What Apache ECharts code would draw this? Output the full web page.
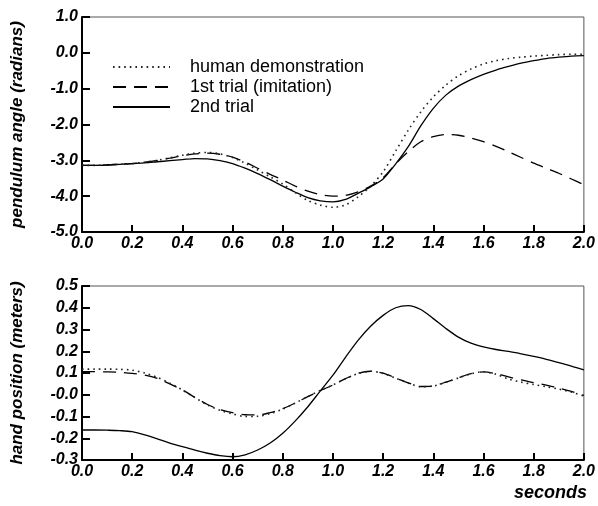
<!DOCTYPE html>
<html>
<head>
<meta charset="utf-8">
<script src="https://cdn.jsdelivr.net/npm/echarts@6/dist/echarts.min.js"></script>
<style>
html,body{margin:0;padding:0;background:#fff;}
#chart{width:598px;height:506px;}
</style>
</head>
<body>
<div id="chart"></div>
<script>
// ---- data ----
var seriesNames = ['human demonstration', '1st trial (imitation)', '2nd trial'];
var xTickLabels = ['0.0','0.2','0.4','0.6','0.8','1.0','1.2','1.4','1.6','1.8','2.0'];
var angleTickLabels = ['-5.0','-4.0','-3.0','-2.0','-1.0','0.0','1.0'];
var handTickLabels = ['-0.3','-0.2','-0.1','-0.0','0.1','0.2','0.3','0.4','0.5'];

var time = [0,0.05,0.1,0.15,0.2,0.25,0.3,0.35,0.4,0.45,0.5,0.55,0.6,0.65,0.7,0.75,0.8,0.85,0.9,0.95,1.0,
            1.05,1.1,1.15,1.2,1.25,1.3,1.35,1.4,1.45,1.5,1.55,1.6,1.65,1.7,1.75,1.8,1.85,1.9,1.95,2.0];

var angleHuman = [-3.14,-3.14,-3.13,-3.11,-3.09,-3.05,-3.00,-2.93,-2.86,-2.80,-2.78,-2.82,-2.92,-3.08,-3.27,-3.46,-3.66,-3.90,-4.12,-4.25,-4.31,
                  -4.24,-4.02,-3.72,-3.32,-2.74,-2.16,-1.65,-1.23,-0.90,-0.64,-0.45,-0.31,-0.22,-0.16,-0.12,-0.09,-0.07,-0.05,-0.04,-0.04];
var angleTrial1 = [-3.14,-3.14,-3.13,-3.11,-3.09,-3.05,-3.00,-2.94,-2.87,-2.82,-2.80,-2.83,-2.91,-3.05,-3.22,-3.39,-3.55,-3.72,-3.86,-3.96,-4.00,
                   -3.98,-3.88,-3.72,-3.48,-3.10,-2.76,-2.48,-2.34,-2.28,-2.30,-2.38,-2.48,-2.61,-2.76,-2.92,-3.08,-3.22,-3.36,-3.52,-3.68];
var angleTrial2 = [-3.14,-3.14,-3.13,-3.11,-3.09,-3.07,-3.04,-3.01,-2.98,-2.95,-2.96,-3.01,-3.09,-3.22,-3.37,-3.54,-3.72,-3.89,-4.04,-4.13,-4.16,
                   -4.09,-3.92,-3.74,-3.52,-3.10,-2.62,-2.04,-1.55,-1.18,-0.93,-0.75,-0.60,-0.48,-0.38,-0.29,-0.22,-0.16,-0.12,-0.09,-0.08];

var handHuman = [0.118,0.118,0.118,0.117,0.113,0.100,0.080,0.053,0.022,-0.013,-0.047,-0.071,-0.088,-0.100,-0.099,-0.086,-0.066,-0.038,-0.008,0.020,0.045,
                 0.073,0.097,0.108,0.098,0.076,0.054,0.037,0.040,0.057,0.077,0.096,0.106,0.094,0.072,0.058,0.047,0.037,0.026,0.012,-0.006];
var handTrial1 = [0.106,0.106,0.105,0.103,0.098,0.090,0.075,0.050,0.022,-0.012,-0.045,-0.068,-0.082,-0.092,-0.093,-0.082,-0.064,-0.038,-0.009,0.019,0.045,
                  0.074,0.099,0.108,0.099,0.077,0.055,0.038,0.041,0.058,0.078,0.097,0.105,0.097,0.082,0.068,0.056,0.044,0.031,0.015,-0.003];
var handTrial2 = [-0.162,-0.162,-0.163,-0.165,-0.170,-0.185,-0.203,-0.222,-0.239,-0.255,-0.269,-0.280,-0.285,-0.276,-0.254,-0.222,-0.177,-0.120,-0.055,0.018,0.090,
                  0.172,0.250,0.315,0.365,0.400,0.410,0.392,0.350,0.305,0.265,0.237,0.220,0.208,0.199,0.188,0.176,0.163,0.148,0.132,0.114];

// ---- helpers ----
function pairs(xs, ys){ return xs.map(function(x,i){ return [x, ys[i]]; }); }
var tickFont = {fontFamily:'Liberation Sans, Arial, sans-serif', fontWeight:'bold', fontStyle:'italic', fontSize:16, color:'#000'};
var titleFont = {fontFamily:'Liberation Sans, Arial, sans-serif', fontWeight:'bold', fontStyle:'italic', fontSize:17, color:'#000'};
var styles = [
  {type:[1.6,4], width:1.6, color:'#222'},
  {type:[13,8], width:1.3, color:'#000'},
  {type:'solid', width:1.3, color:'#000'}
];

function xAxisDef(gi){
  return {
    type:'value', gridIndex:gi, min:0, max:2, interval:0.2,
    axisLine:{show:true, onZero:false, lineStyle:{color:'#000', width:2}},
    axisTick:{show:true, inside:true, length:7, lineStyle:{color:'#000', width:2}},
    splitLine:{show:false},
    axisLabel:Object.assign({margin:4, formatter:function(v){ return xTickLabels[Math.round(v*5)]; }}, tickFont)
  };
}
function yAxisDef(gi, min, max, step, name, labels){
  return {
    type:'value', gridIndex:gi, min:min, max:max, interval:step,
    name:name, nameLocation:'middle', nameGap:56, nameTextStyle:titleFont,
    axisLine:{show:true, onZero:false, lineStyle:{color:'#000', width:2}},
    axisTick:{show:true, inside:true, length:8, lineStyle:{color:'#000', width:2}},
    splitLine:{show:false},
    axisLabel:Object.assign({margin:4, formatter:function(v){ return labels[Math.round((v-min)/step)]; }}, tickFont)
  };
}

var option = {
  animation:false,
  backgroundColor:'#fff',
  grid:[
    {left:82, top:17, width:502, height:215, show:true, borderColor:'#555', borderWidth:1},
    {left:82, top:286, width:502, height:174, show:true, borderColor:'#555', borderWidth:1}
  ],
  legend:{
    data:seriesNames, orient:'vertical', left:107, top:52,
    itemWidth:57, itemHeight:14, itemGap:0,
    itemStyle:{opacity:0},
    textStyle:{fontFamily:'Liberation Sans, Arial, sans-serif', fontSize:18, color:'#000', lineHeight:20, padding:[0,0,0,15]},
    selectedMode:false
  },
  xAxis:[xAxisDef(0), xAxisDef(1)],
  yAxis:[
    yAxisDef(0, -5, 1, 1, 'pendulum angle (radians)', angleTickLabels),
    yAxisDef(1, -0.3, 0.5, 0.1, 'hand position (meters)', handTickLabels)
  ],
  graphic:[
    {type:'text', right:11, top:484, style:{text:'seconds', fill:'#000',
      font:'italic bold 18px "Liberation Sans", Arial, sans-serif'}}
  ],
  series:[]
};

var topData = [angleHuman, angleTrial1, angleTrial2];
var botData = [handHuman, handTrial1, handTrial2];
for (var i=0;i<3;i++){
  option.series.push({
    name:seriesNames[i], type:'line', xAxisIndex:0, yAxisIndex:0,
    data:pairs(time, topData[i]), smooth:0.3, symbol:'none', showSymbol:false,
    lineStyle:{type:styles[i].type, width:styles[i].width, color:styles[i].color},
    itemStyle:{color:styles[i].color}, z:3-i
  });
}
for (var j=0;j<3;j++){
  option.series.push({
    name:seriesNames[j], type:'line', xAxisIndex:1, yAxisIndex:1,
    data:pairs(time, botData[j]), smooth:0.3, symbol:'none', showSymbol:false,
    lineStyle:{type:styles[j].type, width:styles[j].width, color:styles[j].color},
    itemStyle:{color:styles[j].color}, z:3-j
  });
}

var chart = echarts.init(document.getElementById('chart'), null, {renderer:'canvas'});
chart.setOption(option);
</script>
</body>
</html>
